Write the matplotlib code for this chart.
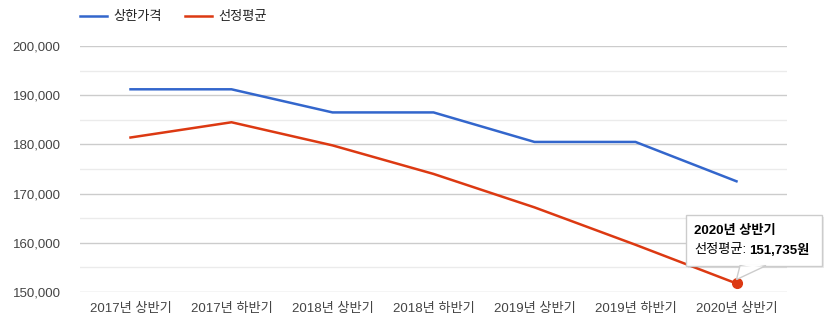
import matplotlib
matplotlib.use('Agg')
import matplotlib.pyplot as plt
from matplotlib.patches import FancyBboxPatch, Polygon
from matplotlib.ticker import MultipleLocator, FuncFormatter

plt.rcParams['font.family'] = ['Liberation Sans', 'Noto Sans CJK KR', 'DejaVu Sans']

# 데이터
periods = ['2017년 상반기', '2017년 하반기', '2018년 상반기', '2018년 하반기',
           '2019년 상반기', '2019년 하반기', '2020년 상반기']
upper_price = [191200, 191200, 186500, 186500, 180500, 180500, 172500]
avg_price = [181400, 184500, 179800, 174000, 167200, 159600, 151735]

blue = '#3366cc'
red = '#dc3912'
W, H = 827, 328

fig = plt.figure(figsize=(W / 100, H / 100), dpi=100)
ax = fig.add_axes([80 / W, 1 - 292 / H, 707 / W, 246 / H])

x = range(len(periods))
ax.plot(x, upper_price, color=blue, lw=1.8, label='상한가격')
ax.plot(x, avg_price, color=red, lw=1.8, label='선정평균')
ax.plot(x[-1], avg_price[-1], 'o', color=red, ms=7, zorder=5)

ax.set_xlim(-0.5, len(periods) - 0.5)
ax.set_ylim(150000, 200000)
ax.yaxis.set_major_locator(MultipleLocator(10000))
ax.yaxis.set_minor_locator(MultipleLocator(5000))
ax.yaxis.set_major_formatter(FuncFormatter(lambda v, p: f'{int(v):,}'))
ax.set_xticks(list(x))
ax.set_xticklabels(periods)
ax.grid(axis='y', which='major', color='#cccccc', lw=1)
ax.grid(axis='y', which='minor', color='#ebebeb', lw=1)
ax.set_axisbelow(True)
for s in ax.spines.values():
    s.set_visible(False)
ax.tick_params(axis='both', which='both', length=0, labelsize=9.5, labelcolor='#444444')
ax.tick_params(axis='y', pad=14)
ax.tick_params(axis='x', pad=8)

# 범례
leg = fig.legend(loc='upper left', bbox_to_anchor=(80 / W, 1 - 11 / H), ncol=2, frameon=False,
                 fontsize=9.5, handlelength=2.05, columnspacing=1.8, handletextpad=0.45,
                 borderpad=0, borderaxespad=0)
for t in leg.get_texts():
    t.set_color('#222222')

# 툴팁
fig.canvas.draw()
px, py = ax.transData.transform((x[-1], avg_price[-1]))
bx0, bx1, by_top, by_bot = 686, 822, 215, 266
shadow = FancyBboxPatch((bx0 / W + 0.002, 1 - by_bot / H - 0.006), (bx1 - bx0) / W, (by_bot - by_top) / H,
                        boxstyle='square,pad=0', transform=fig.transFigure,
                        facecolor='#000000', alpha=0.08, edgecolor='none', zorder=9)
box = FancyBboxPatch((bx0 / W, 1 - by_bot / H), (bx1 - bx0) / W, (by_bot - by_top) / H,
                     boxstyle='square,pad=0', transform=fig.transFigure,
                     facecolor='white', edgecolor='#cccccc', lw=1, zorder=10)
fig.add_artist(shadow)
fig.add_artist(box)
tri = Polygon([(740 / W, 1 - by_bot / H + 0.001), (766 / W, 1 - by_bot / H + 0.001), (px / W, py / H + 0.012)],
              closed=True, transform=fig.transFigure, facecolor='white', edgecolor='#cccccc',
              lw=1, zorder=11)
fig.add_artist(tri)
cover = Polygon([(741 / W, 1 - by_bot / H + 0.003), (765 / W, 1 - by_bot / H + 0.003), (753 / W, 1 - by_bot / H - 0.004)],
                closed=True, transform=fig.transFigure, facecolor='white', edgecolor='none', zorder=12)
fig.add_artist(cover)
fig.text(694 / W, 1 - 231 / H, '2020년 상반기', fontsize=9.5, fontweight='bold', color='#000000',
         va='center', zorder=13)
lbl = fig.text(694 / W, 1 - 250 / H, '선정평균:', fontsize=9.5, color='#000000', va='center', zorder=13)
fig.canvas.draw()
lx1 = lbl.get_window_extent().x1
fig.text((lx1 + 3) / W, 1 - 250 / H, f'{avg_price[-1]:,}원', fontsize=9.5, fontweight='bold',
         color='#000000', va='center', zorder=13)

fig.savefig('out.png', dpi=100)
